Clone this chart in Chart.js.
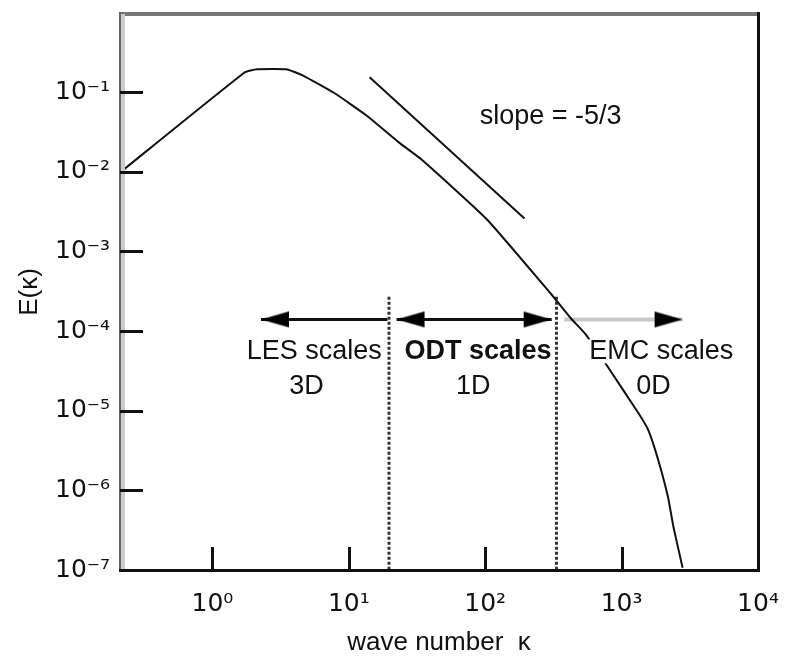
<!DOCTYPE html>
<html><head><meta charset="utf-8">
<script src="https://cdn.jsdelivr.net/npm/chart.js@4/dist/chart.umd.min.js"></script>
<style>html,body{margin:0;padding:0;background:#fff}#wrap{width:789px;height:658px}</style>
</head><body><div id="wrap"><canvas id="c"></canvas></div>
<script>
// ---- data ----
const xTickValues = [1, 10, 100, 1000, 10000];
const xTickLabels = ['10⁰', '10¹', '10²', '10³', '10⁴'];
const yTickValues = [1e-7, 1e-6, 1e-5, 1e-4, 1e-3, 1e-2, 1e-1];
const yTickLabels = ['10⁻⁷', '10⁻⁶', '10⁻⁵', '10⁻⁴', '10⁻³', '10⁻²', '10⁻¹'];

const spectrumK = [0.21, 1.72, 2.12, 3.47, 4.58, 7.87, 13.7, 23.5, 34.3, 102.6, 307, 426, 545, 769, 1341, 1578, 1862, 2190, 2400, 2800];
const spectrumE = [0.0098, 0.177, 0.194, 0.194, 0.163, 0.097, 0.050, 0.0231, 0.0142, 0.00254, 2.86e-4, 1.44e-4, 9.1e-5, 3.83e-5, 9.1e-6, 5.6e-6, 2.36e-6, 8.2e-7, 3.46e-7, 1.07e-7];

const slopeK = [14.2, 194];
const slopeE = [0.154, 0.0026];

const cutoffK = [19.7, 333];
const cutoffE = [2.7e-4, 1e-7];

const arrowE = 1.4e-4;
const lesArrowK = [19.2, 2.27];
const odtArrowK = [22.4, 307];
const emcArrowK = [380, 2800];

const regionLabels = ['LES scales', 'ODT scales', 'EMC scales'];
const dimLabels = ['3D', '1D', '0D'];
const regionLabelK = [5.57, 88.6, 1950];
const dimLabelK = [4.9, 81.6, 1714];
const regionLabelE = 5.57e-5;
const dimLabelE = 2.0e-5;
const slopeLabel = 'slope = -5/3';
const slopeLabelK = 302;
const slopeLabelE = 0.05;

const xTitle = 'wave number  κ';
const yTitle = 'E(κ)';

// ---- styling ----
const FAM = '"Liberation Sans", Arial, Helvetica, sans-serif';
const TICKFAM = '"DejaVu Sans", sans-serif';
const tickFont = {family: TICKFAM, size: 25};

function makeArrow(color) {
  const c = document.createElement('canvas');
  c.width = 60; c.height = 18;
  const g = c.getContext('2d');
  g.fillStyle = color;
  g.beginPath();
  g.moveTo(30, 9); g.lineTo(2, 1); g.lineTo(2, 17); g.closePath();
  g.fill();
  return c;
}
const arrowHead = makeArrow('#000');

function pts(xs, ys) { return xs.map((v, i) => ({x: v, y: Array.isArray(ys) ? ys[i] : ys})); }
function labelFor(v, vals, labs) {
  for (let i = 0; i < vals.length; i++) if (Math.abs(Math.log10(v) - Math.log10(vals[i])) < 1e-6) return labs[i];
  return '';
}

const decor = {
  id: 'decor',
  afterDatasetsDraw(chart) {
    const {ctx, scales: {x, y}} = chart;
    ctx.save();
    ctx.textAlign = 'center';
    ctx.textBaseline = 'middle';
    regionLabels.forEach((t, i) => {
      const px = x.getPixelForValue(regionLabelK[i]);
      const py = y.getPixelForValue(regionLabelE);
      ctx.font = (i === 1 ? 'bold ' : '') + '27px ' + FAM;
      const w = ctx.measureText(t).width;
      ctx.fillStyle = '#fff';
      ctx.fillRect(px - w / 2 - 1, py - 12, w + 2, 24);
      ctx.fillStyle = '#111';
      ctx.fillText(t, px, py);
    });
    ctx.font = '27px ' + FAM;
    dimLabels.forEach((t, i) => {
      ctx.fillStyle = '#111';
      ctx.fillText(t, x.getPixelForValue(dimLabelK[i]), y.getPixelForValue(dimLabelE));
    });
    ctx.fillText(slopeLabel, x.getPixelForValue(slopeLabelK), y.getPixelForValue(slopeLabelE));
    ctx.restore();
  },
  afterDraw(chart) {
    const {ctx, chartArea: a, scales: {x, y}} = chart;
    ctx.save();
    // frame
    ctx.fillStyle = '#777';
    ctx.fillRect(a.left, a.top - 2, a.right - a.left, 4);
    ctx.fillStyle = '#ccc';
    ctx.fillRect(a.left + 1, a.top, 4, a.bottom - a.top);
    ctx.fillStyle = '#666';
    ctx.fillRect(a.left - 1, a.top - 2, 2, a.bottom - a.top + 3);
    ctx.fillStyle = '#111';
    ctx.fillRect(a.right - 1, a.top - 2, 3, a.bottom - a.top + 4);
    ctx.fillRect(a.left - 1, a.bottom - 1, a.right - a.left + 3, 3);
    // inward ticks
    ctx.strokeStyle = '#111';
    ctx.lineWidth = 3;
    ctx.beginPath();
    y.ticks.forEach(t => {
      const py = Math.round(y.getPixelForValue(t.value)) + 0.5;
      ctx.moveTo(a.left, py); ctx.lineTo(a.left + 23, py);
    });
    x.ticks.forEach(t => {
      const px = Math.round(x.getPixelForValue(t.value)) + 0.5;
      ctx.moveTo(px, a.bottom); ctx.lineTo(px, a.bottom - 23);
    });
    ctx.stroke();
    ctx.restore();
  }
};

new Chart(document.getElementById('c'), {
  type: 'scatter',
  data: {
    datasets: [
      {label: 'E(κ)', data: pts(spectrumK, spectrumE), showLine: true, borderColor: '#111', borderWidth: 2, pointRadius: 0, tension: 0.15},
      {label: 'slope', data: pts(slopeK, slopeE), showLine: true, borderColor: '#111', borderWidth: 2, pointRadius: 0},
      {label: 'LES/ODT boundary', data: pts([cutoffK[0], cutoffK[0]], cutoffE), showLine: true, borderColor: '#333', borderWidth: 3, borderDash: [3, 2], pointRadius: 0},
      {label: 'ODT/EMC boundary', data: pts([cutoffK[1], cutoffK[1]], cutoffE), showLine: true, borderColor: '#333', borderWidth: 3, borderDash: [3, 2], pointRadius: 0},
      {label: 'EMC', data: pts(emcArrowK, arrowE), showLine: true, borderColor: '#c8c8c8', borderWidth: 4, pointStyle: arrowHead, pointRadius: [0, 10], pointRotation: [0, 0]},
      {label: 'LES', data: pts(lesArrowK, arrowE), showLine: true, borderColor: '#111', borderWidth: 3, pointStyle: arrowHead, pointRadius: [0, 10], pointRotation: [0, 180]},
      {label: 'ODT', data: pts(odtArrowK, arrowE), showLine: true, borderColor: '#111', borderWidth: 3, pointStyle: arrowHead, pointRadius: [10, 10], pointRotation: [180, 0]}
    ]
  },
  options: {
    responsive: true,
    maintainAspectRatio: false,
    animation: false,
    events: [],
    layout: {padding: {left: 0, top: 10, right: 31, bottom: 0}},
    plugins: {legend: {display: false}, tooltip: {enabled: false}},
    scales: {
      x: {
        type: 'logarithmic', min: 0.21, max: 10000,
        afterBuildTicks: s => { s.ticks = xTickValues.map(v => ({value: v})); },
        afterFit: s => { s.height = 88; s.paddingLeft = 0; s.paddingRight = 0; },
        ticks: {callback: v => labelFor(v, xTickValues, xTickLabels), font: tickFont, color: '#111', padding: 19, maxRotation: 0, autoSkip: false},
        grid: {display: false, drawTicks: false},
        border: {display: false},
        title: {display: true, text: xTitle, font: {family: FAM, size: 26}, color: '#111', padding: {top: 0, bottom: 0}}
      },
      y: {
        type: 'logarithmic', min: 1e-7, max: 0.96,
        afterBuildTicks: s => { s.ticks = yTickValues.map(v => ({value: v})); },
        afterFit: s => { s.width = 120; s.paddingTop = 0; s.paddingBottom = 0; },
        ticks: {callback: v => labelFor(v, yTickValues, yTickLabels), font: tickFont, color: '#111', padding: 10, autoSkip: false},
        grid: {display: false, drawTicks: false},
        border: {display: false},
        title: {display: true, text: yTitle, font: {family: FAM, size: 26}, color: '#111', padding: {top: 14, bottom: 0}}
      }
    }
  },
  plugins: [decor]
});
</script></body></html>
